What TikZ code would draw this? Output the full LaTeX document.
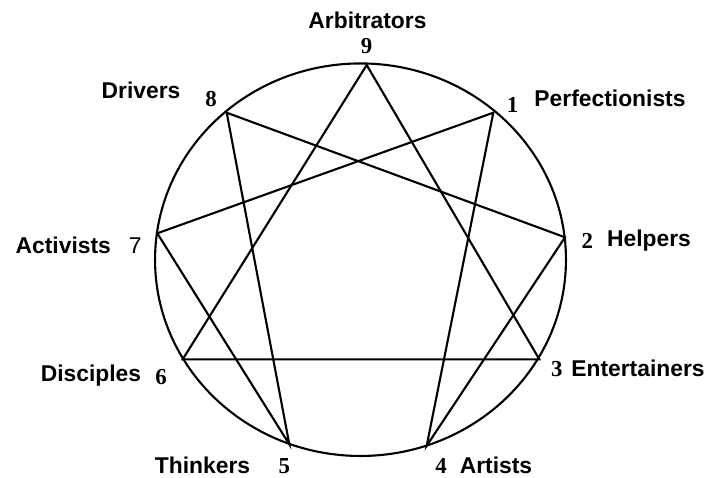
\documentclass[tikz,border=0pt]{standalone}
\usepackage{fontspec}
\setmainfont{Liberation Serif}
\newfontfamily\typefont{Liberation Sans}

\tikzset{
    typename/.style={font=\typefont\bfseries\fontsize{13}{15}\selectfont, inner sep=0pt, anchor=base},
    typenum/.style={font=\bfseries\fontsize{13}{15}\selectfont, inner sep=0pt, anchor=base},
}

\begin{document}
\begin{tikzpicture}[x=0.02cm, y=-0.02cm, line width=1.2pt]
    % White background, fixes the page size
    \fill[white] (0,0) rectangle (709,477);
    \useasboundingbox (0,0) rectangle (709,477);

    % Points on the circle
    \coordinate (p9) at (366.7,65);
    \coordinate (p1) at (493.3,112.7);
    \coordinate (p2) at (565,237.3);
    \coordinate (p3) at (539.3,359.3);
    \coordinate (p4) at (426.7,445.7);
    \coordinate (p5) at (289.3,444.3);
    \coordinate (p6) at (182.7,359.3);
    \coordinate (p7) at (157.3,233.3);
    \coordinate (p8) at (226.7,112.7);

    % Outer circle
    \draw (360.5,259.7) ellipse [x radius=4.11cm, y radius=3.926cm];

    % Triangle 9-3-6
    \draw (p9) -- (p3) -- (p6) -- cycle;

    % Hexad 1-4-2-8-5-7-1
    \draw (p1) -- (p4) -- (p2) -- (p8) -- (p5) -- (p7) -- cycle;

    % Numbers
    \node[typenum] (n9) at (366.7,53.3) {9};
    \node[typenum] (n1) at (512.7,112.7) {1};
    \node[typenum] (n2) at (587.3,248.3) {2};
    \node[typenum] (n3) at (556.7,376.7) {3};
    \node[typenum] (n4) at (441,473) {4};
    \node[typenum] (n5) at (284.3,473.5) {5};
    \node[typenum] (n6) at (161,384.3) {6};
    \node[typenum, font=\typefont\fontsize{13}{15}\selectfont] (n7) at (135.3,253.3) {7};
    \node[typenum] (n8) at (211,106.7) {8};

    % Type names
    \node[typename] (t9) at (367.5,28.3) {Arbitrators};
    \node[typename] (t1) at (610,106) {Perfectionists};
    \node[typename] (t2) at (649,246.7) {Helpers};
    \node[typename] (t3) at (638,376) {Entertainers};
    \node[typename] (t4) at (496,473) {Artists};
    \node[typename] (t5) at (202.5,473.5) {Thinkers};
    \node[typename] (t6) at (91,381.7) {Disciples};
    \node[typename] (t7) at (63.3,253.3) {Activists};
    \node[typename] (t8) at (141,98.3) {Drivers};
\end{tikzpicture}
\end{document}
